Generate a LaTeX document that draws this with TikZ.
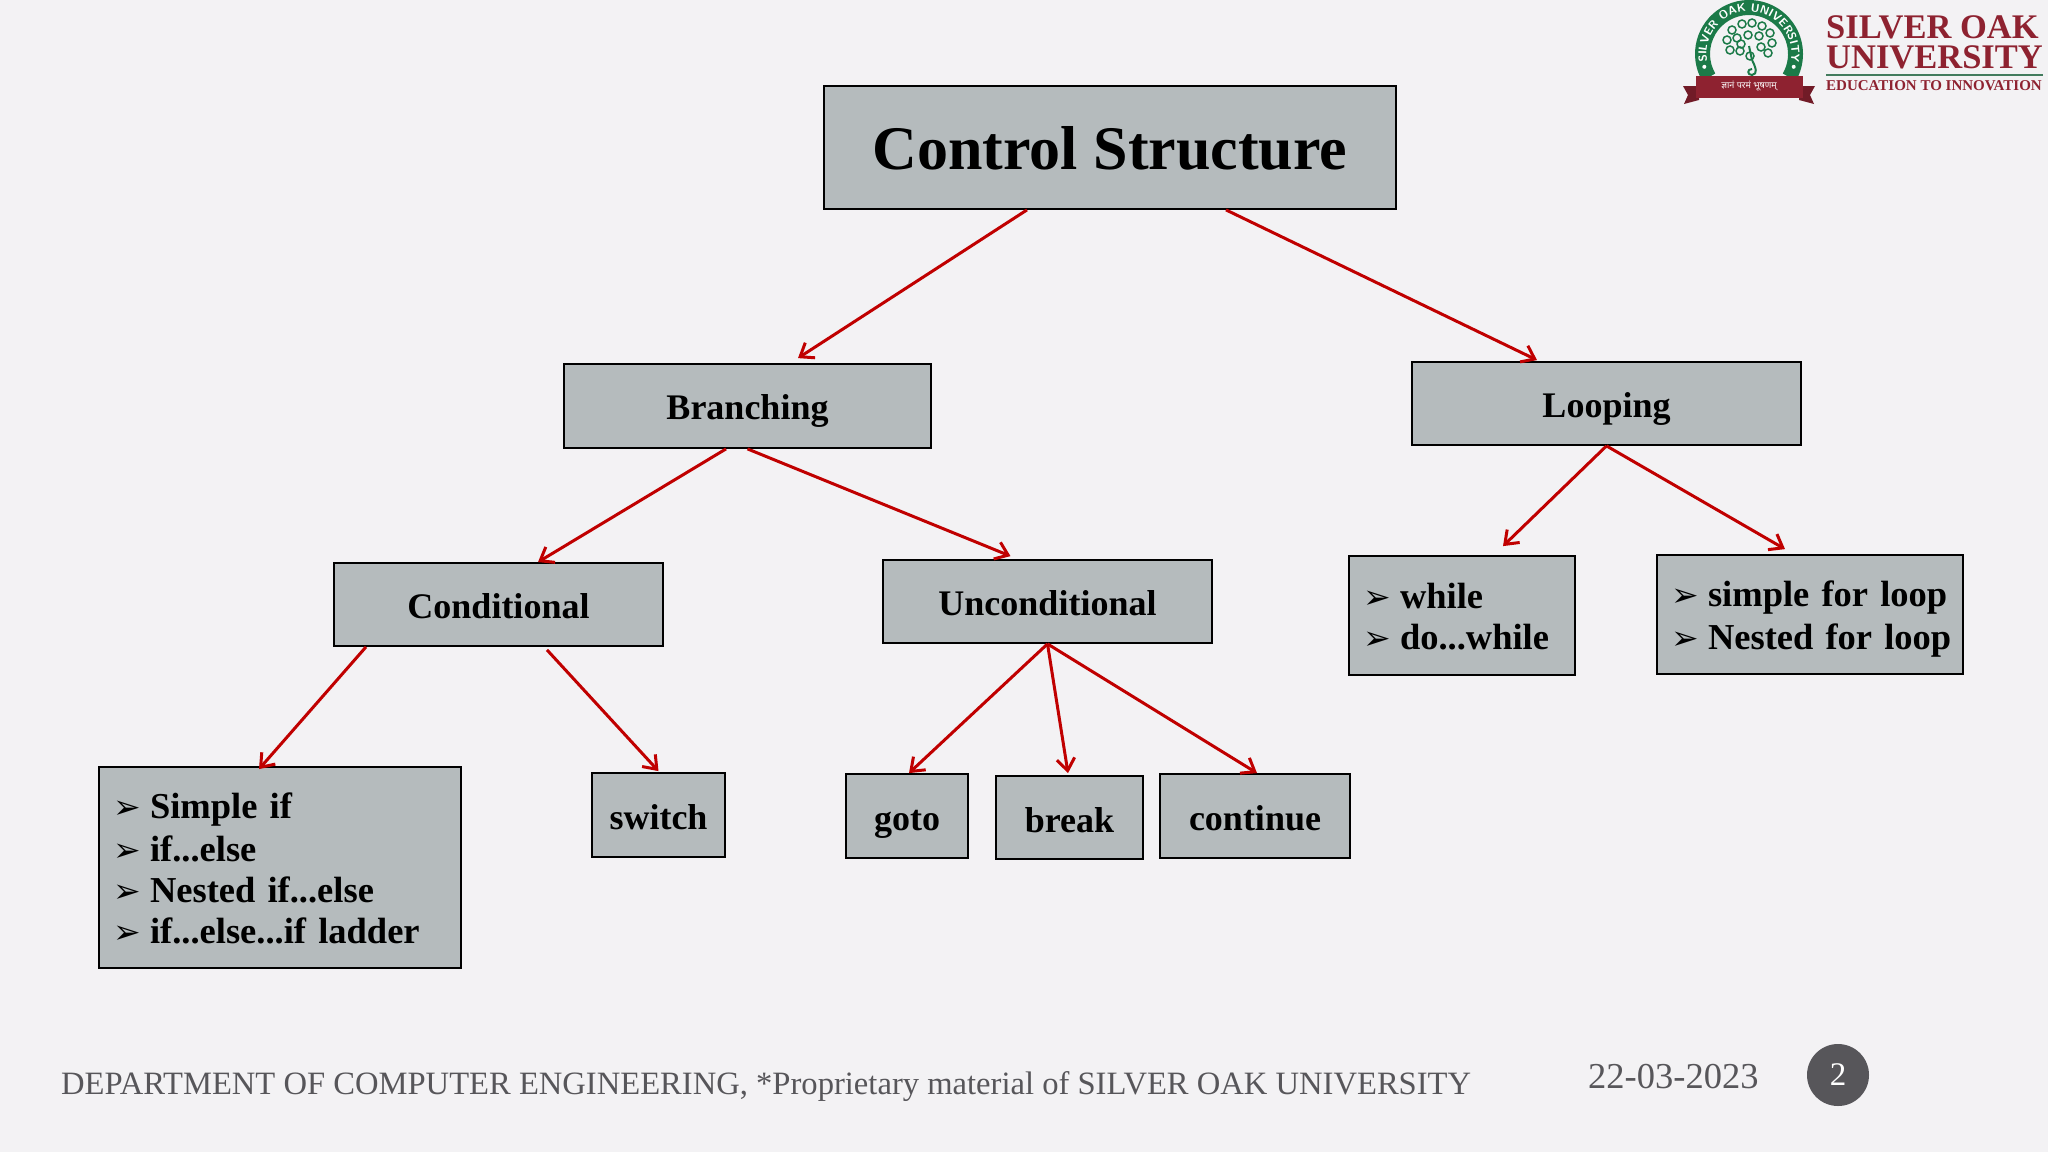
\documentclass[tikz,border=0pt]{standalone}
\usepackage{fontspec}
\setmainfont{Liberation Serif}
\newfontfamily\symbfont{DejaVu Sans}
\newfontfamily\hindifont[Script=Devanagari]{Noto Sans}
\usetikzlibrary{arrows.meta,decorations.text}

\definecolor{slide}{HTML}{F3F2F4}
\definecolor{boxgrey}{HTML}{B5BBBD}
\definecolor{arrowred}{HTML}{C00000}
\definecolor{footgrey}{HTML}{57565A}
\definecolor{logogreen}{HTML}{1B7A48}
\definecolor{logored}{HTML}{8E2230}

\newcommand{\fsz}[1]{\fontsize{#1}{#1}\selectfont}
\newcommand{\bulletitem}[1]{\rule[-7pt]{0pt}{41pt}\hbox to 42pt{\hspace{5pt}\symbfont\fontsize{33}{33}\selectfont ➢\hss}\bfseries #1}

\tikzset{
  boxnode/.style={draw=black,fill=boxgrey,line width=1.8pt,font=\bfseries\fsz{36},inner sep=0pt,text height=27pt,text depth=0pt},
  smallbox/.style={boxnode,text height=29pt},
  listnode/.style={draw=black,fill=boxgrey,line width=1.8pt,font=\bfseries\fontsize{36.5}{41}\selectfont,inner ysep=0pt,align=left,text width=#1,inner xsep=0pt},
  redarrow/.style={draw=arrowred,line width=3pt,-{Straight Barb[length=12pt,width=18pt,line width=3pt]}},
  foottext/.style={text=footgrey,font=\fsz{32.6},inner sep=0pt,anchor=base west},
  logotext/.style={text=logored,font=\bfseries\fsz{34.5},inner sep=0pt,anchor=base west}
}

\begin{document}
\begin{tikzpicture}[x=1pt,y=-1pt]
        % page
        \fill [slide] (0,0) rectangle (2048,1152);
        \useasboundingbox (0,0) rectangle (2048,1152);

        % boxes
        \node [boxnode,minimum width=572pt,minimum height=123pt,font=\bfseries\fsz{62},text height=44pt] (root) at (1110,147.5) {Control Structure};
        \node [boxnode,minimum width=367pt,minimum height=84pt] (branching) at (747.5,406) {Branching};
        \node [boxnode,minimum width=389pt,minimum height=83pt] (looping) at (1606.5,403.5) {Looping};
        \node [boxnode,minimum width=329pt,minimum height=83pt] (conditional) at (498.5,604.5) {Conditional};
        \node [boxnode,minimum width=329pt,minimum height=83pt] (unconditional) at (1047.5,601.5) {Unconditional};
        \node [smallbox,minimum width=133pt,minimum height=84pt] (switch) at (658.5,815) {switch};
        \node [smallbox,minimum width=122pt,minimum height=84pt] (goto) at (907,816) {goto};
        \node [smallbox,minimum width=147pt,minimum height=83pt] (break) at (1069.5,817.5) {break};
        \node [smallbox,minimum width=190pt,minimum height=84pt] (continue) at (1255,816) {continue};

        % boxes with a list
        \node [listnode=208pt,minimum width=226pt,minimum height=119pt] (whileloops) at (1462,615.5) {%
          \bulletitem{while}\\\bulletitem{do...while}};
        \node [listnode=288pt,minimum width=306pt,minimum height=119pt] (forloops) at (1810,614.5) {%
          \bulletitem{simple for loop}\\\bulletitem{Nested for loop}};
        \node [listnode=344pt,minimum width=362pt,minimum height=201pt] (iflist) at (280,867.5) {%
          \bulletitem{Simple if}\\\bulletitem{if...else}\\\bulletitem{Nested if...else}\\\bulletitem{if...else...if ladder}};

        % arrows
        \draw [redarrow] ([xshift=-83pt]root.south) -- ([xshift=50.5pt,yshift=5pt]branching.north);
        \draw [redarrow] ([xshift=116pt]root.south) -- ([xshift=-69.5pt,yshift=1pt]looping.north);
        \draw [redarrow] ([xshift=-21.5pt]branching.south) -- ([xshift=39.5pt]conditional.north);
        \draw [redarrow] (branching.south) -- ([xshift=-37pt,yshift=3pt]unconditional.north);
        \draw [redarrow] (looping.south) -- ([xshift=41pt,yshift=9pt]whileloops.north);
        \draw [redarrow] (looping.south) -- ([xshift=-25pt,yshift=5pt]forloops.north);
        \draw [redarrow] ([xshift=-132.5pt]conditional.south) -- ([xshift=-21pt,yshift=-3pt]iflist.north);
        \draw [redarrow] ([xshift=48.5pt,yshift=-3pt]conditional.south) -- ([yshift=1pt]switch.north);
        \draw [redarrow] (unconditional.south) -- ([xshift=2pt]goto.north);
        \draw [redarrow] (unconditional.south) -- ([xshift=-1.5pt,yshift=2pt]break.north);
        \draw [redarrow] (unconditional.south) -- ([xshift=2pt]continue.north);

        % footer
        \node [foottext] (dept) at (61,1094) {DEPARTMENT OF COMPUTER ENGINEERING, *Proprietary material of SILVER OAK UNIVERSITY};
        \node [foottext,font=\fsz{36.5}] (date) at (1588,1088) {22-03-2023};
        \node [circle,fill=footgrey,minimum size=62pt,inner sep=0pt,text=white,font=\fsz{33}] (pageno) at (1838,1075) {2};

        % logo ring
        \fill [logogreen] (1749,54) ++(150:54) arc [start angle=150,end angle=390,radius=54]
          -- ++(210:15) arc [start angle=390,end angle=150,radius=39] -- cycle;
        \path [postaction={decorate,decoration={text along path,text align=center,text color=white,
          text={|\fontsize{11.5}{11.5}\bfseries\sffamily|SILVER OAK UNIVERSITY}}}]
          (1749,54) ++(166:42.5) arc [start angle=166,end angle=374,radius=42.5];
        \fill [white] (1749,54) ++(164:46.5) circle [radius=2];
        \fill [white] (1749,54) ++(16:46.5) circle [radius=2];

        % logo tree
        \draw [logogreen,line width=2pt] (1752,60) .. controls (1756,68) and (1758,74) .. (1752,75)
          .. controls (1747,75) and (1747,69) .. (1752,69);
        \draw [logogreen,line width=2pt] (1752,60) -- (1749,46);
        \foreach \a/\b in {1732/30,1742/24,1752/23,1762/26,1770/33,1727/40,1737/38,1748/35,1759/36,
                           1772/43,1730/50,1740/51,1761/47,1768/53,1750/56,1741/44}{
          \draw [logogreen,line width=1.5pt] (\a,\b) circle [radius=4];
        }

        % logo ribbon
        \fill [logored!80!black] (1683,86) -- (1699,86) -- (1699,100) -- (1684,104) -- (1688,95) -- cycle;
        \fill [logored!80!black] (1815,86) -- (1799,86) -- (1799,100) -- (1814,104) -- (1810,95) -- cycle;
        \fill [logored] (1696,76) rectangle (1803,98);
        \node [text=white,font=\hindifont\fsz{9},inner sep=0pt] (motto) at (1749,86) {ज्ञानं परमं भूषणम्};

        % logo words
        \node [logotext] (silver) at (1826,38) {SILVER OAK};
        \node [logotext] (univ) at (1826,68) {UNIVERSITY};
        \draw [draw=logogreen!60!gray,line width=1.5pt] ([yshift=-7pt]univ.base west) -- +(217,0);
        \node [logotext,font=\bfseries\fsz{15}] (motto2) at (1826,90) {EDUCATION TO INNOVATION};
\end{tikzpicture}
\end{document}
